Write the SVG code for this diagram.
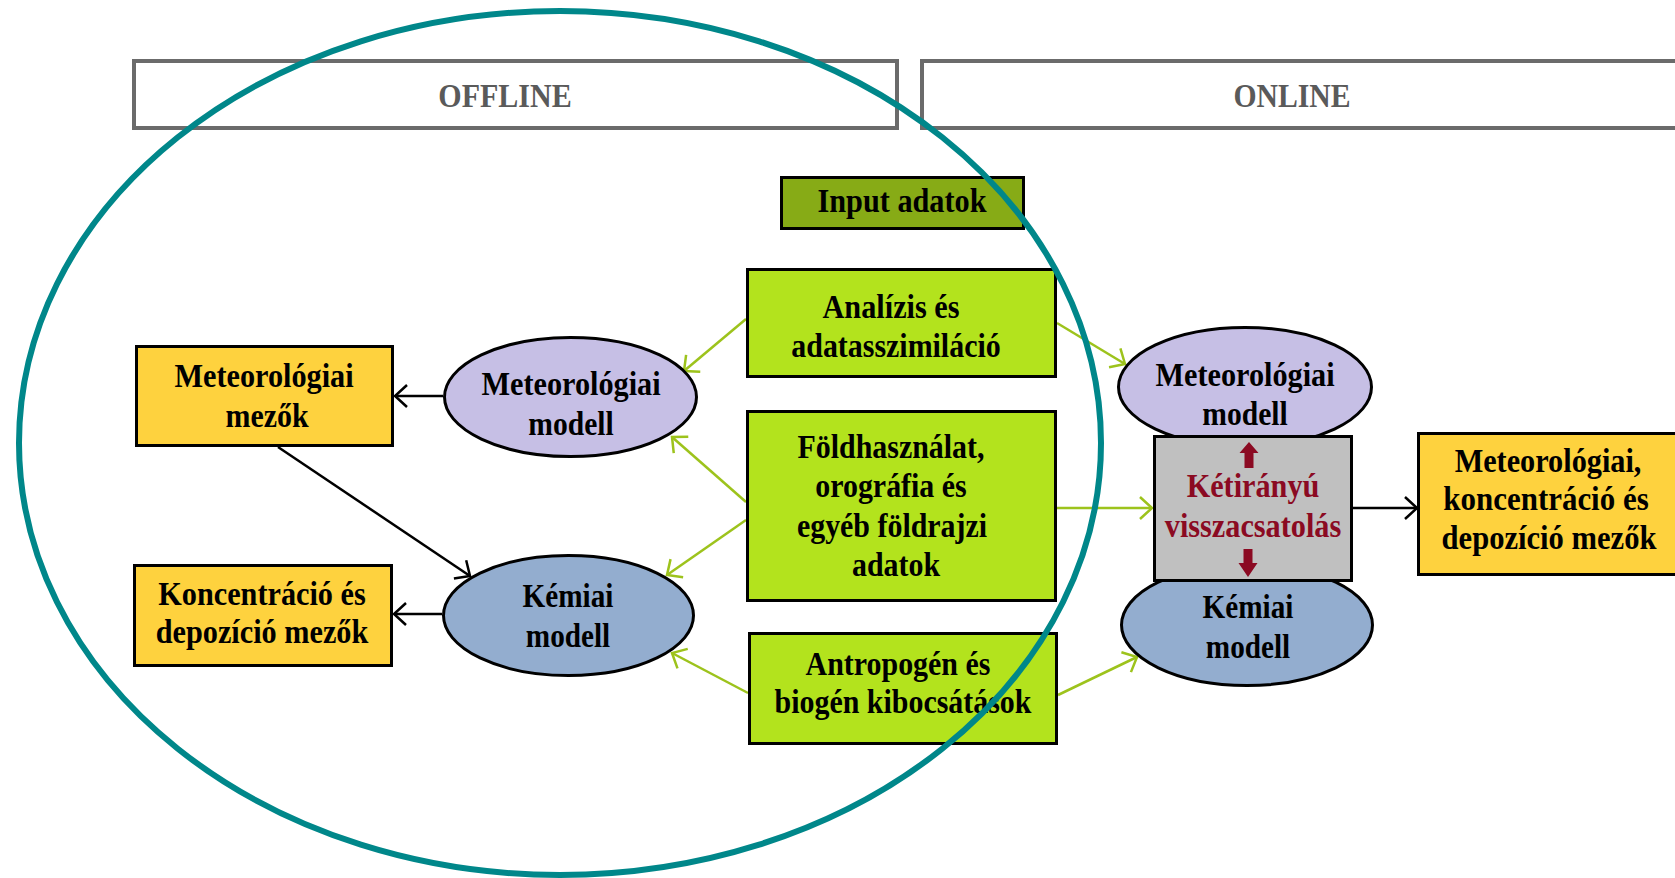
<svg xmlns="http://www.w3.org/2000/svg" width="1675" height="878" viewBox="0 0 1675 878">
<style>
.t{font-family:"Liberation Serif","Times New Roman",serif;font-weight:bold;font-size:34px;text-anchor:middle;fill:#000}
.h{font-family:"Liberation Serif","Times New Roman",serif;font-weight:bold;font-size:33px;text-anchor:middle;fill:#5a5a5a}
.r{fill:#8b0a22}
.hdr{fill:#fff;stroke:#6b6b6b;stroke-width:4}
.box{stroke:#000;stroke-width:3}
.lime{fill:#b3e31d}
.yel{fill:#fed23e}
.lav{fill:#c6bfe5;stroke:#000;stroke-width:3}
.blu{fill:#93adcf;stroke:#000;stroke-width:3}
.bk{stroke:#000;stroke-width:2.5;fill:none}
.gr{stroke:#9dc31c;stroke-width:2.5;fill:none}
</style>
<defs>
<marker id="ab" viewBox="-15 -14 18 28" refX="0" refY="0" markerWidth="18" markerHeight="28" markerUnits="userSpaceOnUse" orient="auto">
<path d="M-12,-11 L0,0 L-12,11" fill="none" stroke="#000" stroke-width="2.5"/>
</marker>
<marker id="ag" viewBox="-15 -14 18 28" refX="0" refY="0" markerWidth="18" markerHeight="28" markerUnits="userSpaceOnUse" orient="auto">
<path d="M-12,-11 L0,0 L-12,11" fill="none" stroke="#9dc31c" stroke-width="2.5"/>
</marker>
</defs>
<rect width="1675" height="878" fill="#fff"/>

<g id="offline">
<rect class="hdr" x="134" y="61" width="763" height="67"/>
<text class="h" transform="translate(505,107) scale(0.91,1)">OFFLINE</text>
</g>
<g id="online">
<rect class="hdr" x="922" y="61" width="780" height="67"/>
<text class="h" transform="translate(1292,107) scale(0.9,1)">ONLINE</text>
</g>

<g id="connectors">
<line class="bk" x1="443" y1="396" x2="395" y2="396" marker-end="url(#ab)"/>
<line class="bk" x1="278" y1="447" x2="470" y2="576" marker-end="url(#ab)"/>
<line class="bk" x1="442" y1="614" x2="394" y2="614" marker-end="url(#ab)"/>
<line class="bk" x1="1353" y1="508" x2="1417" y2="508" marker-end="url(#ab)"/>
<line class="gr" x1="746" y1="319" x2="684" y2="371" marker-end="url(#ag)"/>
<line class="gr" x1="746" y1="502" x2="672" y2="437" marker-end="url(#ag)"/>
<line class="gr" x1="746" y1="520" x2="667" y2="575" marker-end="url(#ag)"/>
<line class="gr" x1="748" y1="693" x2="672" y2="653" marker-end="url(#ag)"/>
<line class="gr" x1="1057" y1="323" x2="1125" y2="364" marker-end="url(#ag)"/>
<line class="gr" x1="1057" y1="508" x2="1152" y2="508" marker-end="url(#ag)"/>
<line class="gr" x1="1058" y1="695" x2="1137" y2="657" marker-end="url(#ag)"/>
</g>

<g id="input">
<rect class="box" x="781.5" y="177.5" width="242" height="51" fill="#87ab16"/>
<text class="t" transform="translate(902,212) scale(0.89,1)">Input adatok</text>
</g>

<g id="analizis">
<rect class="box lime" x="747.5" y="269.5" width="308" height="107"/>
<text class="t" transform="translate(891,318) scale(0.89,1)">Analízis és</text>
<text class="t" transform="translate(896,357) scale(0.88,1)">adatasszimiláció</text>
</g>

<g id="foldhasznalat">
<rect class="box lime" x="747.5" y="411.5" width="308" height="189"/>
<text class="t" transform="translate(891,458) scale(0.88,1)">Földhasználat,</text>
<text class="t" transform="translate(891,497) scale(0.88,1)">orográfia és</text>
<text class="t" transform="translate(892,537) scale(0.88,1)">egyéb földrajzi</text>
<text class="t" transform="translate(896,576) scale(0.88,1)">adatok</text>
</g>

<g id="antropogen">
<rect class="box lime" x="749.5" y="633.5" width="307" height="110"/>
<text class="t" transform="translate(898,675) scale(0.88,1)">Antropogén és</text>
<text class="t" transform="translate(903,713) scale(0.88,1)">biogén kibocsátások</text>
</g>

<g id="meteo-mezok">
<rect class="box yel" x="136.5" y="346.5" width="256" height="99"/>
<text class="t" transform="translate(264,387) scale(0.89,1)">Meteorológiai</text>
<text class="t" transform="translate(267,427) scale(0.88,1)">mezők</text>
</g>

<g id="konc-mezok">
<rect class="box yel" x="134.5" y="565.5" width="257" height="100"/>
<text class="t" transform="translate(262,605) scale(0.89,1)">Koncentráció és</text>
<text class="t" transform="translate(262,643) scale(0.89,1)">depozíció mezők</text>
</g>

<g id="meteo-modell-off">
<ellipse class="lav" cx="570.5" cy="397" rx="126" ry="59.5"/>
<text class="t" transform="translate(571,395) scale(0.89,1)">Meteorológiai</text>
<text class="t" transform="translate(571,435) scale(0.87,1)">modell</text>
</g>

<g id="kemiai-off">
<ellipse class="blu" cx="568.5" cy="615.5" rx="125" ry="60"/>
<text class="t" transform="translate(568,607) scale(0.86,1)">Kémiai</text>
<text class="t" transform="translate(568,647) scale(0.86,1)">modell</text>
</g>

<g id="meteo-modell-on">
<ellipse class="lav" cx="1245" cy="387" rx="126.5" ry="59.5"/>
<text class="t" transform="translate(1245,386) scale(0.89,1)">Meteorológiai</text>
<text class="t" transform="translate(1245,425) scale(0.87,1)">modell</text>
</g>

<g id="kemiai-on">
<ellipse class="blu" cx="1247" cy="625" rx="125.5" ry="60.5"/>
<text class="t" transform="translate(1248,618) scale(0.86,1)">Kémiai</text>
<text class="t" transform="translate(1248,658) scale(0.86,1)">modell</text>
</g>

<g id="ketiranyu">
<rect class="box" x="1154.5" y="436.5" width="197" height="144" fill="#c0c0c0"/>
<polygon class="r" points="1249,442 1258.5,453 1253.5,453 1253.5,468 1244.5,468 1244.5,453 1239.5,453"/>
<polygon class="r" points="1248,577 1257.5,563 1252.5,563 1252.5,549 1243.5,549 1243.5,563 1238.5,563"/>
<text class="t r" transform="translate(1253,497) scale(0.89,1)">Kétirányú</text>
<text class="t r" transform="translate(1253,537) scale(0.89,1)">visszacsatolás</text>
</g>

<g id="output">
<rect class="box yel" x="1418.5" y="433.5" width="280" height="141"/>
<text class="t" transform="translate(1548,472) scale(0.89,1)">Meteorológiai,</text>
<text class="t" transform="translate(1546,510) scale(0.91,1)">koncentráció és</text>
<text class="t" transform="translate(1549,549) scale(0.9,1)">depozíció mezők</text>
</g>

<g id="offline-circle">
<ellipse cx="560" cy="443" rx="541" ry="432" fill="none" stroke="#00878a" stroke-width="6"/>
</g>
</svg>
